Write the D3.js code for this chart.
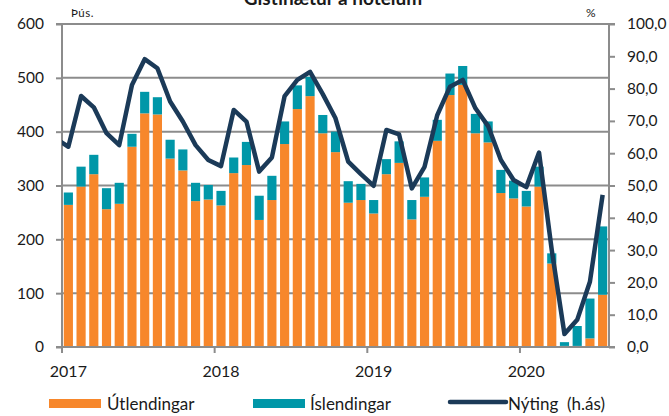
<!DOCTYPE html>
<html>
<head>
<meta charset="utf-8">
<script src="https://cdn.jsdelivr.net/npm/d3@7"></script>
<style>
  body { margin: 0; background: #fff; }
  svg text { font-family: Lato, "Open Sans", sans-serif; fill: #1a1a1a; }
</style>
</head>
<body>
<div id="chart"></div>
<script>
// monthly, Jan 2017 - Jul 2020 (thous. guest nights)
const months = [];
for (let y = 2017; y <= 2020; y++) {
  for (let m = 1; m <= 12; m++) {
    if (y === 2020 && m > 7) break;
    months.push(y + '-' + String(m).padStart(2, '0'));
  }
}

const utlendingar = [
  264, 298, 321, 256, 266, 372, 434, 432, 350, 328, 271, 274,
  263, 323, 338, 236, 273, 377, 442, 466, 397, 362, 268, 273,
  248, 321, 342, 237, 279, 383, 468, 487, 397, 380, 286, 276,
  261, 298, 155, 2, 2, 16, 97
];
const islendingar = [
  23, 37, 36, 39, 39, 24, 40, 32, 35, 39, 34, 27,
  27, 29, 43, 45, 45, 42, 44, 36, 34, 38, 40, 30,
  25, 28, 40, 36, 36, 39, 40, 35, 36, 39, 43, 33,
  29, 37, 19, 7, 37, 74, 127
];
// occupancy %, first value is Dec 2016 (clipped at the left edge)
const nytingDec16 = 64.5;
const nyting = [
  62.0, 77.7, 74.2, 66.2, 62.5, 81.1, 89.1, 86.3, 76.0, 69.8, 62.5, 57.9,
  56.0, 73.4, 69.8, 54.3, 58.7, 77.7, 82.7, 85.2, 78.3, 70.8, 57.4, 53.5,
  49.9, 67.2, 65.8, 49.1, 55.8, 71.8, 80.6, 82.7, 73.9, 68.4, 57.9, 51.7,
  49.5, 60.2, 30.0, 4.0, 8.4, 20.2, 47.1
];
const leftTicks = [0, 100, 200, 300, 400, 500, 600];
const rightTicks = [0, 10, 20, 30, 40, 50, 60, 70, 80, 90, 100];
const years = ['2017', '2018', '2019', '2020'];

const width = 669, height = 416;
const m = { left: 62, right: 60, top: 24, bottom: 69 };
const orange = '#f7872b', teal = '#0097a8', navy = '#1b3a58', grid = '#8c8c8c';

const svg = d3.select('#chart').append('svg').attr('width', width).attr('height', height);

const x = d3.scaleBand().domain(months).range([m.left, width - m.right]).padding(0);
const y = d3.scaleLinear().domain([0, 600]).range([height - m.bottom, m.top]);
const y2 = d3.scaleLinear().domain([0, 100]).range([height - m.bottom, m.top]);
const bw = x.bandwidth() * 0.72;
const cx = (d) => x(d) + x.bandwidth() / 2;

// horizontal gridlines
svg.append('g')
  .selectAll('line')
  .data(leftTicks)
  .enter()
  .append('line')
  .attr('x1', m.left)
  .attr('x2', width - m.right)
  .attr('y1', (d) => y(d))
  .attr('y2', (d) => y(d))
  .attr('stroke', grid)
  .attr('stroke-width', 2);

// stacked bars
const rows = months.map((mo, i) => ({ mo, u: utlendingar[i], s: islendingar[i] }));
const stack = d3.stack().keys(['u', 's'])(rows);
const colors = [orange, teal];
stack.forEach((layer, k) => {
  svg.append('g')
    .attr('fill', colors[k])
    .selectAll('rect')
    .data(layer)
    .enter()
    .append('rect')
    .attr('x', (d) => cx(d.data.mo) - bw / 2)
    .attr('width', bw)
    .attr('y', (d) => y(d[1]))
    .attr('height', (d) => y(d[0]) - y(d[1]));
});

// left axis
const left = svg.append('g').attr('transform', `translate(${m.left},0)`)
  .call(d3.axisLeft(y).tickValues(leftTicks).tickSize(6).tickPadding(12).tickFormat(d3.format('d')));
// right axis
const right = svg.append('g').attr('transform', `translate(${width - m.right},0)`)
  .call(d3.axisRight(y2).tickValues(rightTicks).tickSize(6).tickPadding(12)
    .tickFormat((d) => d3.format('.1f')(d).replace('.', ',')));
// bottom axis, ticks at year starts
const bottom = svg.append('g').attr('transform', `translate(0,${height - m.bottom})`);
bottom.append('line').attr('x1', m.left).attr('x2', width - m.right).attr('stroke', grid).attr('stroke-width', 2);
bottom.selectAll('line.t')
  .data(years)
  .enter()
  .append('line')
  .attr('class', 't')
  .attr('x1', (d) => x(d + '-01'))
  .attr('x2', (d) => x(d + '-01'))
  .attr('y1', 0)
  .attr('y2', 6)
  .attr('stroke', grid)
  .attr('stroke-width', 2);
bottom.selectAll('text')
  .data(years)
  .enter()
  .append('text')
  .attr('x', (d) => cx(d + '-01'))
  .attr('y', 30)
  .attr('text-anchor', 'middle')
  .attr('font-size', 16)
  .text((d) => d);

[left, right].forEach((g) => {
  g.select('.domain').attr('stroke', grid).attr('stroke-width', 2);
  g.selectAll('.tick line').attr('stroke', grid).attr('stroke-width', 2);
  g.selectAll('.tick text').attr('font-size', 15.5).attr('font-family', 'Lato, sans-serif').attr('fill', '#1a1a1a');
});
left.select('.domain').attr('d', `M-6,${y(600)}H0V${y(0)}H-6`);
right.select('.domain').attr('d', `M6,${y2(100)}H0V${y2(0)}H6`);

// occupancy line (clipped to plot area)
svg.append('clipPath').attr('id', 'clip')
  .append('rect')
  .attr('x', m.left)
  .attr('y', 0)
  .attr('width', width - m.left - m.right)
  .attr('height', height);
const pts = [[cx(months[0]) - x.step(), y2(nytingDec16)]]
  .concat(months.map((mo, i) => [cx(mo), y2(nyting[i])]));
svg.append('path')
  .attr('clip-path', 'url(#clip)')
  .attr('d', d3.line()(pts))
  .attr('fill', 'none')
  .attr('stroke', navy)
  .attr('stroke-width', 4.5)
  .attr('stroke-linejoin', 'round');

// title (cut off at the top edge, as in the source) and unit labels
svg.append('text')
  .attr('x', 333)
  .attr('y', 5)
  .attr('text-anchor', 'middle')
  .attr('font-size', 19)
  .attr('font-weight', 'bold')
  .text('Gistinætur á hótelum');
svg.append('text').attr('x', 71).attr('y', 17).attr('font-size', 11.5).attr('letter-spacing', 0.5).text('Þús.');
svg.append('text').attr('x', 586).attr('y', 17).attr('font-size', 12).text('%');

// legend
const lg = svg.append('g');
lg.append('rect').attr('x', 49).attr('y', 399).attr('width', 52).attr('height', 9).attr('fill', orange);
lg.append('text').attr('x', 107).attr('y', 410).attr('font-size', 17).text('Útlendingar');
lg.append('rect').attr('x', 253).attr('y', 399).attr('width', 52).attr('height', 9).attr('fill', teal);
lg.append('text').attr('x', 310).attr('y', 410).attr('font-size', 17).text('Íslendingar');
lg.append('line').attr('x1', 450).attr('x2', 506).attr('y1', 402).attr('y2', 402)
  .attr('stroke', navy).attr('stroke-width', 4.5).attr('stroke-linecap', 'round');
lg.append('text').attr('x', 508).attr('y', 410).attr('font-size', 17).attr('xml:space', 'preserve').text('Nýting  (h.ás)');
</script>
</body>
</html>
